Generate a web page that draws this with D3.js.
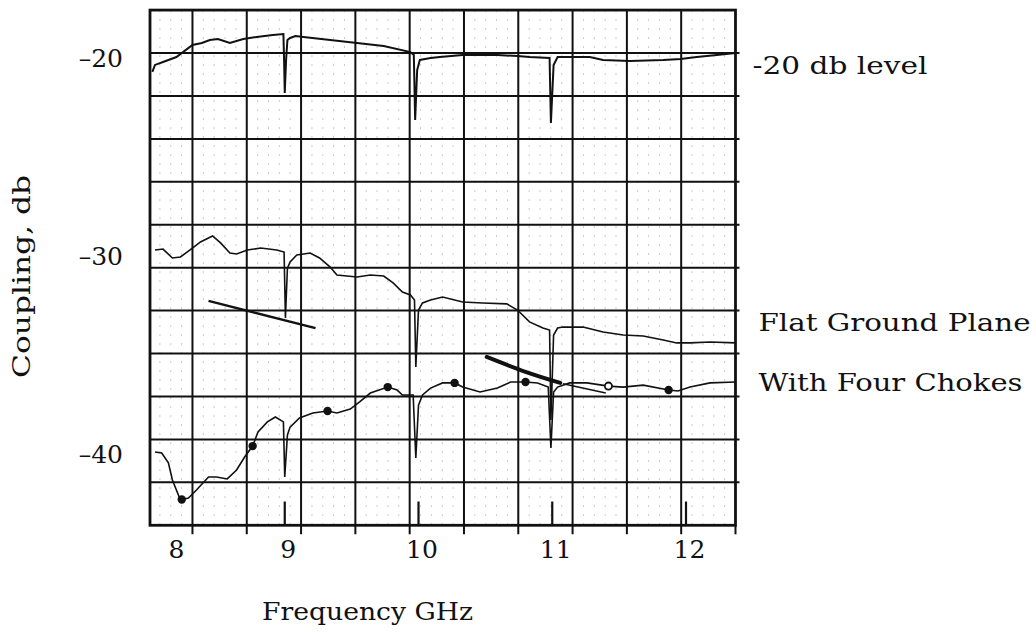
<!DOCTYPE html>
<html>
<head>
<meta charset="utf-8">
<script src="https://cdn.jsdelivr.net/npm/d3@7"></script>
<style>
  body { margin: 0; background: #fff; }
  svg text { font-family: "DejaVu Serif", "Liberation Serif", serif; fill: #111; }
</style>
</head>
<body>
<div id="chart"></div>
<script>
// tick values
var freqTicks = [8, 9, 10, 11, 12];
var dbTicks = [-20, -30, -40];

// traced curves: [GHz, dB]
var refLevel = [
  [8.01,-20.7],[8.03,-20.35],[8.09,-20.2],[8.19,-19.95],[8.31,-19.34],[8.38,-19.24],
  [8.44,-19.09],[8.5,-19.04],[8.59,-19.24],[8.69,-19.04],[8.79,-18.94],[8.91,-18.84],
  [8.99,-18.79],[8.995,-20.1],[9.0,-21.77],[9.01,-20.1],[9.02,-19.09],[9.04,-18.99],
  [9.08,-18.89],[9.14,-18.94],[9.34,-19.09],[9.54,-19.24],[9.74,-19.39],[9.94,-19.7],
  [9.965,-19.85],[9.975,-23.13],[9.99,-20.61],[10.01,-20.1],[10.09,-20.0],[10.16,-19.95],
  [10.33,-19.85],[10.59,-19.85],[10.74,-19.9],[10.83,-19.95],[10.98,-20.0],[10.99,-23.28],
  [11.01,-20.35],[11.04,-19.95],[11.16,-19.95],[11.28,-19.95],[11.38,-20.1],[11.58,-20.15],
  [11.83,-20.1],[11.96,-20.05],[12.08,-19.95],[12.23,-19.85],[12.37,-19.75]
];
var flatPlane = [
  [8.03,-29.7],[8.09,-29.65],[8.16,-30.1],[8.22,-30.05],[8.31,-29.6],[8.37,-29.29],
  [8.46,-28.99],[8.52,-29.34],[8.59,-29.85],[8.64,-29.9],[8.72,-29.7],[8.82,-29.6],
  [8.94,-29.7],[8.995,-29.8],[9.005,-33.13],[9.02,-30.61],[9.04,-30.3],[9.09,-29.95],
  [9.19,-29.85],[9.26,-30.1],[9.34,-30.56],[9.39,-30.96],[9.54,-31.06],[9.64,-30.96],
  [9.74,-31.01],[9.81,-31.36],[9.88,-31.82],[9.94,-31.97],[9.97,-32.22],[9.98,-35.61],
  [10.0,-32.73],[10.03,-32.37],[10.09,-32.22],[10.18,-32.07],[10.33,-32.32],[10.48,-32.37],
  [10.66,-32.42],[10.74,-32.73],[10.83,-33.33],[10.93,-33.64],[10.98,-33.74],[10.99,-38.28],
  [11.01,-33.99],[11.04,-33.64],[11.08,-33.59],[11.23,-33.59],[11.38,-33.84],[11.53,-33.99],
  [11.68,-34.04],[11.83,-34.24],[11.93,-34.39],[12.03,-34.39],[12.18,-34.34],[12.37,-34.39]
];
var fourChokes = [
  [8.03,-39.9],[8.08,-39.95],[8.13,-40.45],[8.16,-41.31],[8.22,-42.32],[8.28,-42.22],
  [8.34,-41.82],[8.43,-41.16],[8.49,-41.16],[8.57,-41.26],[8.64,-40.81],[8.7,-40.15],
  [8.76,-39.6],[8.8,-38.89],[8.87,-38.38],[8.93,-38.13],[8.99,-38.38],[9.0,-41.16],
  [9.02,-39.04],[9.04,-38.64],[9.11,-38.18],[9.21,-37.93],[9.32,-37.83],[9.39,-37.93],
  [9.49,-37.73],[9.56,-37.37],[9.64,-36.92],[9.77,-36.62],[9.84,-36.77],[9.88,-37.02],
  [9.96,-37.02],[9.98,-40.2],[10.0,-37.53],[10.03,-37.02],[10.09,-36.67],[10.18,-36.41],
  [10.27,-36.41],[10.33,-36.62],[10.46,-36.87],[10.59,-36.67],[10.69,-36.36],[10.8,-36.36],
  [10.89,-36.41],[10.97,-36.62],[10.99,-39.7],[11.01,-36.87],[11.04,-36.62],[11.13,-36.41],
  [11.26,-36.41],[11.42,-36.57],[11.53,-36.62],[11.68,-36.52],[11.87,-36.77],[11.94,-36.82],
  [12.03,-36.62],[12.18,-36.41],[12.37,-36.36]
];
var chokeDots = [[8.23,-42.3],[8.76,-39.6],[9.32,-37.83],[9.77,-36.62],[10.27,-36.41],[10.8,-36.36],[11.87,-36.77]];
var chokeOpenDots = [[11.42,-36.57]];

// hand drawn strokes on the sheet
var sketchA = [[8.43,-32.27],[9.23,-33.64]];
var sketchB = [[10.51,-35.1],[10.8,-35.85],[11.06,-36.41]];
var sketchC = [[11.08,-36.45],[11.4,-36.92]];

// frequency marker bars at the bottom
var markerFreqs = [9, 10, 11, 12];

var W = 1036, H = 641;
var x = d3.scaleLinear().domain([8, 12]).range([151, 686]);
var y = d3.scaleLinear().domain([-20, -40]).range([58, 454]);
var xMin = 8, xMax = 12.37, yTop = -17.58, yBot = -43.6;
var L = x(xMin) - 1, R = x(xMax), T = y(yTop), B = y(yBot);

var svg = d3.select("#chart").append("svg")
    .attr("width", W).attr("height", H);

// chart paper
var cell = 0.406;
var vGrid = d3.range(1, 11).map(function(k) { return xMax - k * cell; });
var vMinor = d3.range(1, 55).map(function(k) { return xMax - k * cell / 5; })
    .filter(function(v) { return v > xMin + 0.03; });
var hStep = (yTop - yBot) / 12;
var hGrid = d3.range(1, 12).map(function(k) { return yTop - k * hStep; });

svg.append("g").selectAll("line")
   .data(vMinor)
   .enter().append("line")
   .attr("x1", function(d) { return x(d); }).attr("x2", function(d) { return x(d); })
   .attr("y1", T).attr("y2", B)
   .style("stroke", "#888").style("stroke-width", 0.8)
   .style("stroke-dasharray", "2,7").style("opacity", 0.55);

svg.append("g").selectAll("line")
   .data(hGrid)
   .enter().append("line")
   .attr("x1", L).attr("x2", R + 4)
   .attr("y1", function(d) { return y(d); }).attr("y2", function(d) { return y(d); })
   .style("stroke", "#111").style("stroke-width", 2);

svg.append("g").selectAll("line")
   .data(vGrid)
   .enter().append("line")
   .attr("x1", function(d) { return x(d); }).attr("x2", function(d) { return x(d); })
   .attr("y1", T).attr("y2", B + 9)
   .style("stroke", "#111").style("stroke-width", 2);

// border
svg.append("rect")
   .attr("x", L).attr("y", T).attr("width", R - L).attr("height", B - T)
   .attr("fill", "none").style("stroke", "#111").style("stroke-width", 2.8);
svg.append("line")
   .attr("x1", R).attr("x2", R).attr("y1", B).attr("y2", B + 9)
   .style("stroke", "#111").style("stroke-width", 2);

// marker bars
svg.append("g").selectAll("line")
   .data(markerFreqs)
   .enter().append("line")
   .attr("x1", function(d) { return x(d); }).attr("x2", function(d) { return x(d); })
   .attr("y1", y(-42.4)).attr("y2", B)
   .style("stroke", "#111").style("stroke-width", 2.2);

// curves
var line = d3.line()
    .x(function(d) { return x(d[0]); })
    .y(function(d) { return y(d[1]); });

svg.append("path").datum(refLevel).attr("d", line)
   .attr("fill", "none").style("stroke", "#111").style("stroke-width", 2);
svg.append("path").datum(flatPlane).attr("d", line)
   .attr("fill", "none").style("stroke", "#111").style("stroke-width", 1.6);
svg.append("path").datum(fourChokes).attr("d", line)
   .attr("fill", "none").style("stroke", "#111").style("stroke-width", 1.6);

svg.append("path").datum(sketchA).attr("d", line)
   .attr("fill", "none").style("stroke", "#111").style("stroke-width", 2.4);
svg.append("path").datum(sketchB).attr("d", line.curve(d3.curveCatmullRom))
   .attr("fill", "none").style("stroke", "#111").style("stroke-width", 4)
   .style("stroke-linecap", "round");
svg.append("path").datum(sketchC).attr("d", line.curve(d3.curveLinear))
   .attr("fill", "none").style("stroke", "#111").style("stroke-width", 1.5);

svg.selectAll("circle.dot")
   .data(chokeDots)
   .enter().append("circle")
   .attr("class", "dot")
   .attr("cx", function(d) { return x(d[0]); })
   .attr("cy", function(d) { return y(d[1]); })
   .attr("r", 4.2).attr("fill", "#111");
svg.selectAll("circle.open")
   .data(chokeOpenDots)
   .enter().append("circle")
   .attr("class", "open")
   .attr("cx", function(d) { return x(d[0]); })
   .attr("cy", function(d) { return y(d[1]); })
   .attr("r", 3.6).attr("fill", "#fff")
   .style("stroke", "#111").style("stroke-width", 1.8);

// axes
var yAxis = svg.append("g")
   .attr("transform", "translate(130,0)")
   .call(d3.axisLeft(y).tickValues(dbTicks).tickSize(0).tickPadding(7)
         .tickFormat(function(d) { return "\u2013" + Math.abs(d); }));
yAxis.select(".domain").remove();
yAxis.attr("font-family", null).attr("font-size", 25);

var xAxis = svg.append("g")
   .attr("transform", "translate(0," + B + ")")
   .call(d3.axisBottom(x).tickValues(freqTicks).tickSize(0).tickFormat(d3.format("d")));
xAxis.select(".domain").remove();
xAxis.attr("font-family", null).attr("font-size", 25);
xAxis.selectAll("text")
   .attr("y", 33).attr("dy", 0)
   .attr("dx", function(d) { return d === 8 ? 25 : 3; });

// titles
svg.append("text")
   .attr("x", 262).attr("y", 620)
   .attr("textLength", 211).attr("lengthAdjust", "spacingAndGlyphs")
   .style("font-size", "24px")
   .text("Frequency GHz");

svg.append("text")
   .attr("transform", "translate(30,378) rotate(-90)")
   .attr("textLength", 203).attr("lengthAdjust", "spacingAndGlyphs")
   .style("font-size", "24px")
   .text("Coupling,  db");

// curve labels
svg.append("text")
   .attr("x", R + 17).attr("y", y(-20.8))
   .attr("textLength", 175).attr("lengthAdjust", "spacingAndGlyphs")
   .style("font-size", "24px")
   .text("-20 db level");
svg.append("text")
   .attr("x", R + 23).attr("y", y(-33.8))
   .attr("textLength", 272).attr("lengthAdjust", "spacingAndGlyphs")
   .style("font-size", "24px")
   .text("Flat Ground Plane");
svg.append("text")
   .attr("x", R + 23).attr("y", y(-36.8))
   .attr("textLength", 264).attr("lengthAdjust", "spacingAndGlyphs")
   .style("font-size", "24px")
   .text("With Four Chokes");
</script>
</body>
</html>
